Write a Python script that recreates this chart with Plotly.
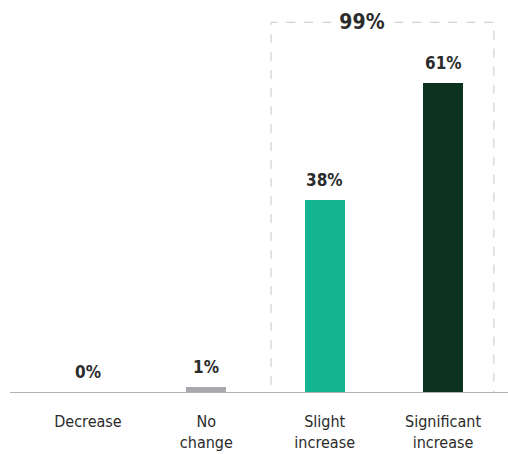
import plotly.graph_objects as go

categories = ["Decrease", "No<br>change", "Slight<br>increase", "Significant<br>increase"]
values = [0, 1, 38, 61]
bar_colors = ["#a7a9ac", "#a7a9ac", "#13b48f", "#0c3320"]
group_label = "99%"
group_members = [2, 3]
group_top = 73

FONT = "DejaVu Sans Condensed, Liberation Sans Narrow, Arial Narrow, sans-serif"
x = list(range(len(categories)))

fig = go.Figure()
fig.add_trace(go.Bar(
    x=x, y=values, marker=dict(color=bar_colors, line=dict(width=0)),
    width=0.34, hoverinfo="skip",
))

for xi, v in zip(x, values):
    fig.add_annotation(x=xi, y=v, text=f"<b>{v}%</b>", showarrow=False,
                       yanchor="middle", yshift=20,
                       font=dict(family=FONT, size=17, color="#2b2b2b"))

gx0 = min(group_members) - 0.453
gx1 = max(group_members) + 0.43
fig.add_shape(type="rect", x0=gx0, x1=gx1, y0=-0.15, y1=group_top,
              line=dict(color="#c8c8c8", width=1, dash="dash"), layer="above")
fig.add_annotation(x=(gx0 + gx1) / 2 - 0.17, y=group_top, text=f"<b>{group_label}</b>",
                   showarrow=False, yanchor="middle", bgcolor="white", borderpad=0,
                   xref="x", yref="y", width=54,
                   font=dict(family=FONT, size=21, color="#2b2b2b"))

fig.update_layout(
    width=508, height=454,
    margin=dict(l=10, r=0, t=0, b=62),
    plot_bgcolor="white", paper_bgcolor="white",
    showlegend=False,
    bargap=0,
    xaxis=dict(range=[-0.659, 3.549], tickmode="array", tickvals=x, ticktext=categories,
               showgrid=False, zeroline=False, showline=True, linecolor="#b0b0b0",
               linewidth=1, ticks="", ticklabelstandoff=15,
               tickfont=dict(family=FONT, size=16, color="#2b2b2b")),
    yaxis=dict(range=[0, 77.4], visible=False, showgrid=False),
)

fig.write_html("out.html")
